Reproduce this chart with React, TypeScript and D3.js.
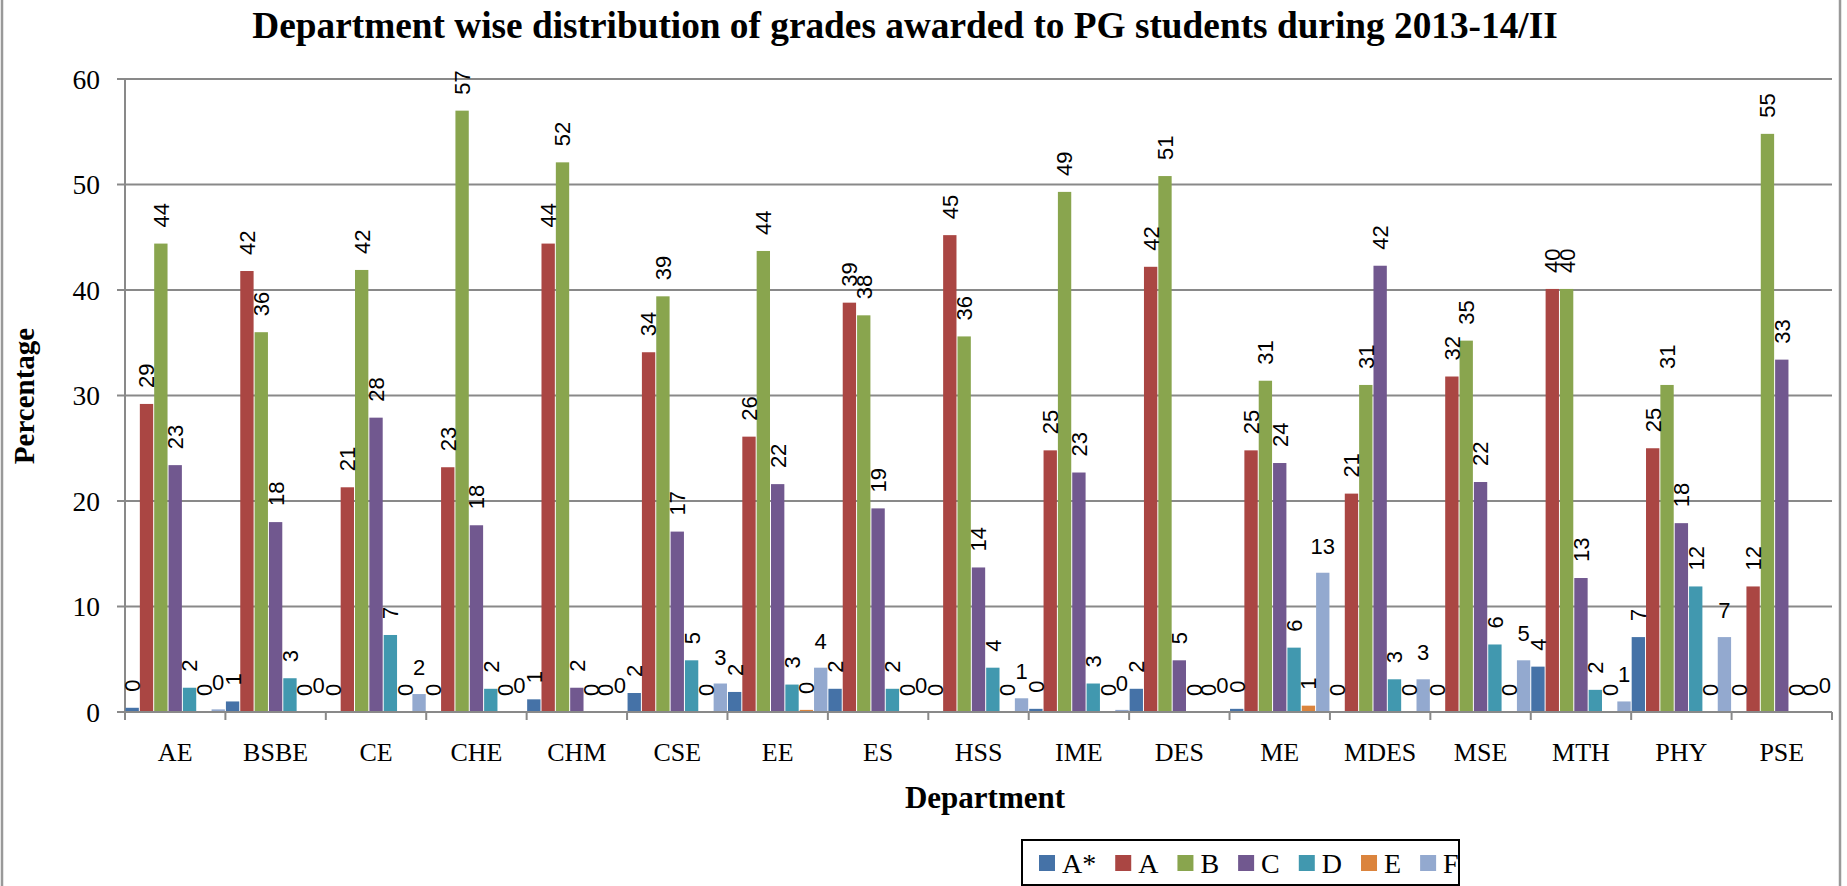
import { scaleBand, scaleLinear } from 'd3'

const departments = ['AE', 'BSBE', 'CE', 'CHE', 'CHM', 'CSE', 'EE', 'ES', 'HSS', 'IME', 'DES', 'ME', 'MDES', 'MSE', 'MTH', 'PHY', 'PSE']
const grades = ['A*', 'A', 'B', 'C', 'D', 'E', 'F']

const gradeAStar = [0.4, 1.0, 0, 0, 1.2, 1.8, 1.9, 2.2, 0, 0.3, 2.2, 0.3, 0, 0, 4.3, 7.1, 0]
const gradeA = [29.2, 41.8, 21.3, 23.2, 44.4, 34.1, 26.1, 38.8, 45.2, 24.8, 42.2, 24.8, 20.7, 31.8, 40.1, 25.0, 11.9]
const gradeB = [44.4, 36.0, 41.9, 57.0, 52.1, 39.4, 43.7, 37.6, 35.6, 49.3, 50.8, 31.4, 31.0, 35.2, 40.1, 31.0, 54.8]
const gradeC = [23.4, 18.0, 27.9, 17.7, 2.3, 17.1, 21.6, 19.3, 13.7, 22.7, 4.9, 23.6, 42.3, 21.8, 12.7, 17.9, 33.4]
const gradeD = [2.3, 3.2, 7.3, 2.2, 0, 4.9, 2.6, 2.2, 4.2, 2.7, 0, 6.1, 3.1, 6.4, 2.1, 11.9, 0]
const gradeE = [0, 0, 0, 0, 0, 0, 0.2, 0, 0, 0, 0, 0.6, 0, 0, 0, 0, 0]
const gradeF = [0.25, 0, 1.7, 0, 0, 2.7, 4.2, 0, 1.3, 0.2, 0, 13.2, 3.1, 4.9, 1.0, 7.1, 0]

const yTicks = [0, 10, 20, 30, 40, 50, 60]
const colors = ['#4572A7', '#AA4643', '#89A54E', '#71588F', '#4198AF', '#DB843D', '#93A9CF']

const series = [gradeAStar, gradeA, gradeB, gradeC, gradeD, gradeE, gradeF]

const W = 1847
const H = 886
const serif = '"Liberation Serif", "Times New Roman", serif'
const sans = '"Liberation Sans", Arial, sans-serif'
const gridColor = '#898989'

function textWidth(text: string, font: string) {
  const ctx = document.createElement('canvas').getContext('2d')
  if (!ctx) return text.length * 14
  ctx.font = font
  return ctx.measureText(text).width
}

export default function App() {
  const left = 125
  const right = 1832
  const top = 79
  const bottom = 712

  const x0 = scaleBand<string>().domain(departments).range([left, right]).paddingInner(0).paddingOuter(0)
  const x1 = scaleBand<string>().domain(grades).range([0, x0.bandwidth()])
  const y = scaleLinear().domain([0, 60]).range([bottom, top])

  // legend layout from measured text widths
  const legendFont = `28px ${serif}`
  let lx = 1039
  const legendItems = grades.map((g, i) => {
    const item = { g, x: lx, color: colors[i] }
    lx += 16 + 7 + textWidth(g, legendFont) + 19
    return item
  })

  return (
    <svg width={W} height={H} style={{ position: 'absolute', left: 0, top: 0, background: '#fff' }}>
      <rect x={2} y={-10} width={1838} height={H + 20} fill="none" stroke="#999" strokeWidth={2.5} />

      <text x={905} y={38} textAnchor="middle" fontFamily={serif} fontWeight="bold" fontSize={37.3}>
        Department wise distribution of grades awarded to PG students during 2013-14/II
      </text>

      {/* gridlines and y axis */}
      {yTicks.map((t) => (
        <g key={t}>
          <line x1={left - 8} x2={right} y1={y(t)} y2={y(t)} stroke={gridColor} strokeWidth={2} />
          <text x={100} y={y(t)} dy="0.35em" textAnchor="end" fontFamily={serif} fontSize={27.5}>
            {t}
          </text>
        </g>
      ))}
      <line x1={left} x2={left} y1={top} y2={bottom} stroke={gridColor} strokeWidth={2} />

      {/* category ticks */}
      {[...departments.map((d) => x0(d) ?? 0), right].map((v, i) => (
        <line key={i} x1={v} x2={v} y1={bottom} y2={bottom + 8} stroke={gridColor} strokeWidth={2} />
      ))}
      {departments.map((d) => (
        <text key={d} x={(x0(d) ?? 0) + x0.bandwidth() / 2} y={761} textAnchor="middle" fontFamily={serif} fontSize={26}>
          {d}
        </text>
      ))}

      {/* bars */}
      {departments.map((d, di) =>
        grades.map((g, gi) => {
          const v = series[gi][di]
          const bx = (x0(d) ?? 0) + (x1(g) ?? 0)
          return (
            <rect
              key={`${d}-${g}`}
              x={bx + 0.5}
              y={y(v)}
              width={x1.bandwidth() - 1}
              height={bottom - y(v)}
              fill={colors[gi]}
            />
          )
        })
      )}

      {/* data labels: F horizontal, others rotated */}
      {departments.map((d, di) =>
        grades.map((g, gi) => {
          const v = series[gi][di]
          const cx = (x0(d) ?? 0) + (x1(g) ?? 0) + x1.bandwidth() / 2
          const label = String(Math.round(v))
          if (g === 'F') {
            return (
              <text key={`l-${d}-${g}`} x={cx} y={y(v) - 19} textAnchor="middle" fontFamily={sans} fontSize={22}>
                {label}
              </text>
            )
          }
          const ty = y(v) - 16
          return (
            <text
              key={`l-${d}-${g}`}
              transform={`translate(${cx},${ty}) rotate(-90)`}
              dy="0.36em"
              fontFamily={sans}
              fontSize={22}
            >
              {label}
            </text>
          )
        })
      )}

      <line x1={left} x2={right} y1={bottom} y2={bottom} stroke={gridColor} strokeWidth={2} />

      {/* axis titles */}
      <text
        transform={`translate(34,396) rotate(-90)`}
        textAnchor="middle"
        fontFamily={serif}
        fontWeight="bold"
        fontSize={29}
      >
        Percentage
      </text>
      <text x={985} y={808} textAnchor="middle" fontFamily={serif} fontWeight="bold" fontSize={31}>
        Department
      </text>

      {/* legend */}
      <rect x={1022} y={840} width={437} height={45} fill="#fff" stroke="#000" strokeWidth={2} />
      {legendItems.map((it) => (
        <g key={it.g}>
          <rect x={it.x} y={855} width={16} height={16} fill={it.color} />
          <text x={it.x + 23} y={873} fontFamily={serif} fontSize={28}>
            {it.g}
          </text>
        </g>
      ))}
    </svg>
  )
}
